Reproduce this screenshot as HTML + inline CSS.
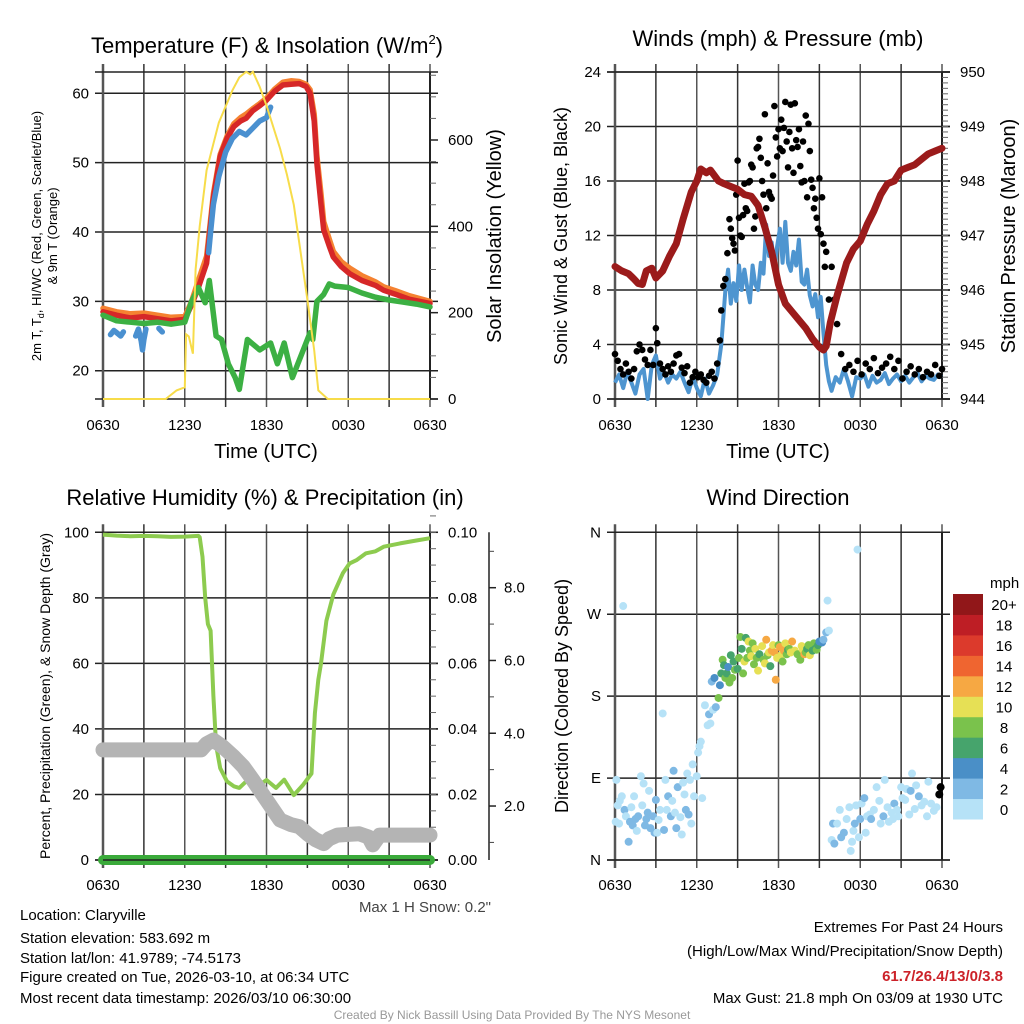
<!DOCTYPE html>
<html><head><meta charset="utf-8">
<style>
html,body{margin:0;padding:0;background:#fff;}
svg{display:block;font-family:"Liberation Sans",sans-serif;}
</style></head>
<body>
<svg id="fig" width="1024" height="1024" viewBox="0 0 1024 1024" xmlns="http://www.w3.org/2000/svg">
<rect width="1024" height="1024" fill="#fff"/>
<g id="layer"></g>
<!-- titles -->
<text x="267" y="53" font-size="22" text-anchor="middle">Temperature (F) &amp; Insolation (W/m<tspan font-size="13" dy="-9">2</tspan><tspan dy="9">)</tspan></text>
<text x="778" y="46" font-size="22" text-anchor="middle">Winds (mph) &amp; Pressure (mb)</text>
<text x="265" y="505" font-size="22" text-anchor="middle">Relative Humidity (%) &amp; Precipitation (in)</text>
<text x="778" y="505" font-size="22" text-anchor="middle">Wind Direction</text>
<!-- axis titles -->
<text x="266" y="458" font-size="20" text-anchor="middle">Time (UTC)</text>
<text x="778" y="458" font-size="20" text-anchor="middle">Time (UTC)</text>
<text transform="translate(41,236) rotate(-90)" font-size="13" text-anchor="middle">2m T, T<tspan font-size="9" dy="3">d</tspan><tspan dy="-3">, HI/WC (Red, Green, Scarlet/Blue)</tspan></text>
<text transform="translate(57,236) rotate(-90)" font-size="13" text-anchor="middle">&amp; 9m T (Orange)</text>
<text transform="translate(501,236) rotate(-90)" font-size="20" text-anchor="middle">Solar Insolation (Yellow)</text>
<text transform="translate(567,236) rotate(-90)" font-size="18" text-anchor="middle">Sonic Wind &amp; Gust (Blue, Black)</text>
<text transform="translate(1015,236) rotate(-90)" font-size="20" text-anchor="middle">Station Pressure (Maroon)</text>
<text transform="translate(50,696) rotate(-90)" font-size="14" text-anchor="middle">Percent, Precipitation (Green), &amp; Snow Depth (Gray)</text>
<text transform="translate(568,696) rotate(-90)" font-size="18" text-anchor="middle">Direction (Colored By Speed)</text>
<!-- footer -->
<text x="491" y="912" font-size="15" fill="#444" text-anchor="end">Max 1 H Snow: 0.2"</text>
<g font-size="15">
<text x="20" y="920">Location: Claryville</text>
<text x="20" y="943">Station elevation: 583.692 m</text>
<text x="20" y="963">Station lat/lon: 41.9789; -74.5173</text>
<text x="20" y="982">Figure created on Tue, 2026-03-10, at 06:34 UTC</text>
<text x="20" y="1003">Most recent data timestamp: 2026/03/10 06:30:00</text>
</g>
<g font-size="15" text-anchor="end">
<text x="1003" y="932">Extremes For Past 24 Hours</text>
<text x="1003" y="956">(High/Low/Max Wind/Precipitation/Snow Depth)</text>
<text x="1003" y="981" fill="#cc2229" font-weight="bold">61.7/26.4/13/0/3.8</text>
<text x="1003" y="1003">Max Gust: 21.8 mph On 03/09 at 1930 UTC</text>
</g>
<text x="512" y="1019" font-size="12" fill="#999" text-anchor="middle">Created By Nick Bassill Using Data Provided By The NYS Mesonet</text>
</svg>
<script>
// ---------- DATA ----------
const timeLabels = ["0630","1230","1830","0030","0630"];
// Temperature panel (hours since 0630 UTC)
const tempTimes = [0,1,2,3,4,5,6,6.5,7,7.6,8.1,8.6,9.1,9.6,10.1,10.5,11,11.5,12,12.6,13.2,13.8,14.4,14.9,15.2,15.5,15.7,16,16.2,16.6,16.9,17.5,18.1,19,20,20.6,21.5,22.5,24];
const tempRed = [28.5,28,27.6,27.8,27.5,27.2,27.4,29.5,32,35.5,45,50.9,53.5,55.2,56,56.4,57.5,58.2,59,60.3,61.2,61.3,61.4,61,60,56,49.9,44,40.3,38,36.4,35,34,33,32.3,31.6,31,30.3,29.7];
const tempOrange = [29,28.5,28.2,28.3,28,27.7,27.8,30,33,36.5,45.5,51.2,53.8,55.6,56.5,57,57.8,58.5,59.3,60.6,61.6,61.8,61.7,61.3,60.5,57,51,45.5,41.5,39,37.2,35.7,34.8,33.7,32.8,32.1,31.5,30.8,30];
const dewTimes = [0,1,2,3,4,5,6,6.5,7,7.5,7.8,8.3,8.7,9.2,9.7,10,10.6,11.5,12.3,12.8,13.3,13.9,14.5,15.2,15.4,15.7,16.2,16.6,17,18,19,20,21,22,23,24];
const dewGreen = [28,27.2,27,26.8,27,26.7,27,30,32,29.8,33,25,24.5,21,19,17.3,24.5,23,24,21,24,19,22,25.5,24.5,30,31,32.5,32.2,32,31.2,30.6,30.2,29.9,29.6,29.2];
const hiTimes = [0.55,0.8,1.0,1.3,1.5,null,2.4,2.6,2.8,2.9,3.0,3.15,null,4.1,4.35,null,7.75,7.9,8.1,8.5,9,9.5,10,10.5,11,11.5,12,12.3];
const hiBlue = [25.2,25.8,25.5,25,25.6,null,25,26,24.3,23,24.5,26,null,26.1,25.6,null,37,40,44,48,51.5,53.5,54.5,54,55,56,56.5,58];
const solarTimes = [0,4.6,5.4,6,6.1,6.3,6.6,6.8,7.1,7.6,8.5,9.5,10,10.5,10.8,11,11.5,12,13,13.5,14,14.5,15,15.5,15.8,16.5,24];
const solarVals = [0,0,20,27,150,145,105,300,400,530,640,715,745,758,752,758,723,680,580,520,450,340,230,113,20,0,0];
// Winds panel
const windTimes = [0,0.3,0.6,0.9,1.2,1.5,1.8,2.1,2.4,2.7,3.0,3.3,3.6,3.9,4.2,4.5,4.8,5.1,5.4,5.7,6.0,6.3,6.6,6.9,7.2,7.5,7.8,8.1,8.3,8.5,8.7,8.9,9.1,9.3,9.5,9.7,9.9,10.1,10.3,10.5,10.7,10.9,11.1,11.3,11.5,11.7,11.9,12.1,12.3,12.5,12.7,12.9,13.1,13.3,13.5,13.7,13.9,14.1,14.3,14.5,14.7,14.9,15.1,15.3,15.5,15.7,15.9,16.2,16.5,16.8,17.1,17.4,17.7,18,18.3,18.6,18.9,19.2,19.5,19.8,20.1,20.4,20.7,21,21.3,21.6,21.9,22.2,22.5,22.8,23.1,23.4,23.7,24];
const windBlue = [1.2,1.8,0.8,2,1.2,0.4,1.8,2.2,0,2.5,3.2,1.5,2,1.2,1.8,1.5,2,1.2,0.5,1.6,0.8,0.2,1.5,0.4,1,1.8,4,8,9.5,7,8.5,7.2,9.8,8,9.5,8.2,7.1,9.8,8.4,8,10,9.2,12.8,10.5,11.5,9.6,11.2,12.5,10,13,10,9.4,10.8,9.8,11.7,8.6,8.4,9.5,7.6,6.8,7.7,6,7.5,4.8,2.5,1.3,0.6,1.6,1.2,2.2,1.3,0.2,1.6,1.5,1.8,0.9,1.7,1.2,1.4,1.9,1.1,1.5,1.8,1.3,1.7,1.2,1.6,1.9,1.3,1.7,1.5,1.4,1.8,1.6];
const gustTimes = [0,0.2,0.4,0.6,0.8,1.0,1.2,1.4,1.6,1.8,2.0,2.2,2.4,2.6,2.8,3.0,3.1,3.3,3.5,3.7,3.9,4.1,4.3,4.5,4.7,4.9,5.1,5.3,5.5,5.7,5.9,6.1,6.3,6.5,6.7,6.9,7.1,7.3,7.5,7.7,7.8,7.95,8.1,8.25,8.4,8.5,8.6,8.7,8.8,8.9,9.0,9.1,9.2,9.3,9.4,9.5,9.6,9.7,9.8,9.9,10.0,10.1,10.2,10.3,10.4,10.5,10.6,10.7,10.8,10.9,11.0,11.1,11.2,11.3,11.4,11.5,11.6,11.7,11.8,11.9,12.0,12.1,12.2,12.3,12.4,12.5,12.6,12.7,12.8,12.9,13.0,13.1,13.2,13.3,13.4,13.5,13.6,13.7,13.8,13.9,14.0,14.1,14.2,14.3,14.4,14.5,14.6,14.7,14.8,14.9,15.0,15.1,15.2,15.3,15.4,15.5,15.7,15.9,16.1,16.3,16.6,16.9,17.2,17.5,17.8,18.1,18.4,18.7,19.0,19.3,19.6,19.9,20.2,20.5,20.8,21.1,21.4,21.7,22.0,22.3,22.6,22.9,23.2,23.5,23.8,24];
const gustBlack = [3.3,2.8,2.2,1.8,2.6,2.0,1.5,2.2,3.5,4.0,3.6,2.9,2.5,3.6,2.5,5.2,4.1,2.6,2.2,1.8,2.4,2.0,2.6,3.2,3.3,2.3,1.9,2.4,1.2,1.6,2.0,1.6,1.8,1.4,1.2,1.7,2.0,1.5,2.6,4.3,6.5,8.3,8.8,10.7,13.2,12.5,11.8,11.4,10.9,15.0,17.5,13.3,12.0,11.9,13.5,15.8,14.0,13.8,15.9,16.0,17.2,17.0,12.5,13.4,18.4,18.5,19.1,17.7,16.0,15.0,20.9,14.0,17.3,15.2,14.9,14.7,16.4,21.5,19.2,17.8,19.8,18.4,20.5,18.2,19.9,21.8,18.9,17.0,19.6,21.6,18.4,16.6,21.7,19.0,18.5,19.8,17.1,15.9,18.9,16.0,20.8,14.8,20.2,18.2,16.1,15.5,14.0,14.7,13.3,12.5,16.2,12.1,14.8,11.4,9.7,10.8,7.3,9.7,7.3,5.5,3.3,2.2,2.5,2.0,2.8,1.8,2.6,2.2,3.0,1.9,2.3,2.6,3.1,2.2,2.8,1.5,2.0,2.4,1.8,2.2,1.6,2.0,1.8,2.5,1.7,2.2,1.9,2.6,2.2];
const presTimes = [0,0.5,1,1.4,1.7,2.0,2.3,2.7,3.0,3.5,4,4.5,5,5.6,6,6.3,6.7,7,7.6,8,8.5,9,9.5,10,10.5,11,11.5,12,12.5,13,13.5,14,14.5,15,15.3,15.5,15.8,16.3,17,17.5,18,18.5,19,19.5,20,20.5,21,21.5,22,22.5,23,23.5,24];
const presMaroon = [946.43,946.35,946.3,946.2,946.12,946.1,946.35,946.4,946.22,946.35,946.62,946.85,947.3,947.8,948.0,948.22,948.15,948.2,948.0,947.95,947.9,947.85,947.75,947.72,947.55,947.15,946.7,946.1,945.75,945.6,945.45,945.3,945.1,944.95,944.9,944.97,945.4,945.9,946.5,946.75,946.9,947.2,947.45,947.75,947.95,948.0,948.2,948.25,948.3,948.4,948.5,948.55,948.6];
// Humidity panel
const rhTimes = [0,1,2,3,4,5,6,7,7.1,7.3,7.5,7.7,7.9,8.1,8.3,8.6,9.1,9.6,10,10.5,11,11.5,12,12.7,13.3,14,14.7,15.3,15.55,15.8,16,16.4,16.9,17.6,18.1,18.6,19.3,20,20.6,21.8,23,24];
const rhGreen = [99.3,99,98.8,98.9,98.8,98.6,98.7,98.9,98.5,92.5,80,72,70,50,35,28,24,22.5,22,24,26.5,23,24.4,22,24.5,19.8,23,26.4,44.8,55,60,73,81,87.5,90.5,91.5,93.6,94.2,95.6,96.6,97.5,98.2];
const snowTimes = [0,2,4,6,7.2,7.6,8.1,8.8,9.6,10.3,11,12,13,13.8,14.4,15,15.6,16.2,16.6,17.2,18,18.8,19.5,19.8,20.3,21,22,24];
const snowGray = [33.6,33.6,33.6,33.6,33.6,35.5,36.6,34.5,31.5,28.5,24.4,18.3,12.2,10.8,10.2,8,6.2,5,6.5,7.6,7.8,8,7,4.6,7.6,7.6,7.6,7.6];
const precipTimes = [0,24];
const precipVals = [0,0];
// Wind direction scatter: time, direction (deg), speed (mph)
const dirTimes = [0.05,0.1,0.2,0.3,0.35,0.5,0.6,0.7,0.8,1.0,1.1,1.2,1.3,1.4,1.5,1.6,1.7,1.9,2.0,2.1,2.2,2.3,2.4,2.5,2.6,2.8,2.9,3.0,3.1,3.2,3.3,3.5,3.6,3.7,3.8,3.9,4.1,4.2,4.3,4.4,4.5,4.6,4.8,4.9,5.0,5.1,5.2,5.3,5.4,5.5,5.6,5.7,5.8,6.0,6.1,6.2,6.3,6.4,6.6,6.8,6.9,7.0,7.1,7.2,7.3,7.4,7.6,7.7,7.8,7.9,8.0,8.1,8.2,8.3,8.4,8.5,8.6,8.7,8.8,9.0,9.1,9.2,9.3,9.4,9.5,9.6,9.7,9.8,9.9,10.0,10.1,10.2,10.3,10.4,10.5,10.6,10.8,10.9,11.0,11.1,11.2,11.3,11.4,11.5,11.6,11.7,11.8,11.9,12.0,12.1,12.2,12.3,12.4,12.5,12.6,12.7,12.8,12.9,13.0,13.2,13.4,13.6,13.7,13.8,13.9,14.0,14.1,14.2,14.3,14.4,14.5,14.6,14.7,14.8,14.9,15.0,15.2,15.3,15.5,15.6,15.7,15.9,16.0,16.1,16.3,16.5,16.6,16.8,17.0,17.2,17.3,17.4,17.5,17.6,17.7,17.8,17.9,18.0,18.1,18.3,18.4,18.5,18.7,18.8,19.0,19.2,19.4,19.5,19.7,19.8,20.0,20.1,20.3,20.4,20.5,20.7,20.8,21.0,21.1,21.3,21.4,21.6,21.7,21.8,22.0,22.1,22.3,22.5,22.7,22.9,23.0,23.2,23.4,23.6,23.8,23.9];
const dirDegs = [42,88,60,40,65,70,279,55,48,20,42,58,38,70,45,32,48,92,60,84,38,45,52,76,35,48,30,66,30,44,55,161,33,88,55,70,48,65,98,52,35,80,47,28,85,72,55,95,50,88,40,105,70,92,118,125,130,68,170,148,160,150,196,165,200,168,178,192,205,220,214,200,205,212,195,225,200,218,209,210,222,245,232,205,218,244,222,240,230,224,238,215,232,222,208,226,235,220,216,242,225,228,213,230,236,228,198,222,236,234,225,218,230,238,226,231,232,228,240,230,226,220,235,231,226,228,232,236,225,234,230,238,232,231,236,240,239,242,250,285,252,22,40,18,40,55,25,30,45,58,10,20,32,40,60,341,25,45,62,68,30,48,50,45,55,80,65,40,48,88,58,42,52,45,62,55,48,80,68,66,78,50,76,95,56,82,70,60,64,48,86,62,54,58,72,80,60,72,85,80];
const dirSpeeds = [1,1,1,1,1,1,1,3,1,3,3,1,3,1,3,1,3,1,1,1,3,3,3,1,3,3,3,3,1,1,1,1,3,1,1,3,3,1,3,1,3,3,1,1,1,1,3,1,3,1,1,1,1,1,1,1,1,1,1,1,3,1,3,1,5,3,9,5,7,9,7,9,7,5,9,7,9,7,9,7,9,9,7,9,11,7,9,11,9,11,9,9,11,9,11,7,11,9,11,13,9,11,7,13,11,13,12,11,9,13,11,9,13,11,9,7,9,11,13,11,9,9,11,11,13,9,7,9,11,9,7,9,7,9,7,5,5,3,3,1,1,1,3,3,1,1,3,3,1,1,1,1,1,3,1,1,1,3,1,3,1,1,1,3,1,1,1,1,3,1,1,1,1,1,3,1,1,1,1,1,1,1,3,1,1,1,3,1,1,1,1,1,1,1];
const speedBinLabels = ["0","2","4","6","8","10","12","14","16","18","20+"];
const speedBinColors = ["#b6e2f7","#7fb9e4","#4a8fc7","#46a46c","#7ac24c","#e6e055","#f6a843","#ef6530","#dc3a2c","#be1e25","#911719"];

// ---------- DRAWING ----------
const NS="http://www.w3.org/2000/svg";
const layer=document.getElementById('layer');
function mk(tag,attrs,parent){const e=document.createElementNS(NS,tag);for(const k in attrs)e.setAttribute(k,attrs[k]);(parent||layer).appendChild(e);return e;}
function xScale(x0,x1){return h=>x0+h*(x1-x0)/24;}
function yScale(y0,y1,v0,v1){return v=>y0-(v-v0)*(y0-y1)/(v1-v0);}
function pathFrom(ts,vs,xs,ys){let d="",pen=false;for(let i=0;i<ts.length;i++){if(ts[i]===null||vs[i]===null){pen=false;continue;}d+=(pen?"L":"M")+xs(ts[i]).toFixed(1)+","+ys(vs[i]).toFixed(1);pen=true;}return d;}

function frame(g,L,R,T,B,leftTicks,leftFmt,ly){
  leftTicks.forEach(v=>{const y=ly(v);const l=mk('line',{x1:L-8,x2:R+8,y1:y,y2:y,stroke:'#222','stroke-width':1.5},g);
    
    
    const t=mk('text',{x:L-14,y:y+5,'font-size':15,'text-anchor':'end'},g);t.textContent=leftFmt(v);
    
    });
  for(let i=0;i<=8;i++){const x=L+i*(R-L)/8;const l=mk('line',{x1:x,x2:x,y1:T-8,y2:B+8,stroke:i%2?'#333':'#555','stroke-width':(i==0?2.5:1.5)},g);
    
    }
  mk('line',{x1:L-8,x2:R+8,y1:T,y2:T,stroke:'#222','stroke-width':1.5},g);
  mk('line',{x1:L-8,x2:R+8,y1:B,y2:B,stroke:'#222','stroke-width':1.5},g);
  mk('line',{x1:R,x2:R,y1:T,y2:B,stroke:'#222','stroke-width':2},g);
}
function xLabels(g,xs,y){timeLabels.forEach((s,i)=>{const t=mk('text',{x:xs(i*6),y:y,'font-size':15,'text-anchor':'middle'},g);t.textContent=s;
  
  });}
function rightAxis(g,R,ticks,ys,fmt,minor){ticks.forEach(v=>{const y=ys(v);mk('line',{x1:R,x2:R+8,y1:y,y2:y,stroke:'#222','stroke-width':1.5},g);
  const t=mk('text',{x:R+18,y:y+5,'font-size':15},g);t.textContent=fmt(v);
  
  });
  (minor||[]).forEach(v=>{const y=ys(v);mk('line',{x1:R,x2:R+6,y1:y,y2:y,stroke:'#666','stroke-width':1},g);});}

// ---- Panel 1: temperature ----
{const g=mk('g',{});
 const xs=xScale(103,430), ys=yScale(370.7,93.3,20,60), yi=yScale(399,140,0,600);
 frame(g,103,430,72,399,[20,30,40,50,60],v=>v,ys);
 rightAxis(g,430,[0,200,400,600],yi,v=>v,[50,100,150,250,300,350,450,500,550,650,700,750]);
 xLabels(g,xs,430);
 const s1=mk('path',{d:pathFrom(tempTimes,tempOrange,xs,ys),fill:'none',stroke:'#f58231','stroke-width':5.5,'stroke-linejoin':'round','stroke-linecap':'round'},g);
 
 const s2=mk('path',{d:pathFrom(tempTimes,tempRed,xs,ys),fill:'none',stroke:'#d62728','stroke-width':5.5,'stroke-linejoin':'round','stroke-linecap':'round'},g);
 
 const s3=mk('path',{d:pathFrom(hiTimes,hiBlue,xs,ys),fill:'none',stroke:'#4a90d0','stroke-width':5.5,'stroke-linejoin':'round','stroke-linecap':'round'},g);
 
 const s4=mk('path',{d:pathFrom(dewTimes,dewGreen,xs,ys),fill:'none',stroke:'#3cb043','stroke-width':5.5,'stroke-linejoin':'round','stroke-linecap':'round'},g);
 
 const s5=mk('path',{d:pathFrom(solarTimes,solarVals,xs,yi),fill:'none',stroke:'#f7dc4a','stroke-width':2},g);
 
}
// ---- Panel 2: winds ----
{const g=mk('g',{});
 const xs=xScale(615,942), ys=yScale(399,72,0,24), yp=yScale(399,72,944,950);
 frame(g,615,942,72,399,[0,4,8,12,16,20,24],v=>v,ys);
 const minor=[];for(let v=944.1;v<950;v+=0.1)minor.push(v);
 rightAxis(g,942,[944,945,946,947,948,949,950],yp,v=>v,minor);
 xLabels(g,xs,430);
 const b=mk('path',{d:pathFrom(windTimes,windBlue,xs,ys),fill:'none',stroke:'#4e95d0','stroke-width':4,'stroke-linejoin':'round'},g);
 
 gustTimes.forEach((t,i)=>{const c=mk('circle',{cx:xs(t),cy:ys(gustBlack[i]),r:3.3,fill:'#000'},g);
   
   });
 const p=mk('path',{d:pathFrom(presTimes,presMaroon,xs,yp),fill:'none',stroke:'#9b1b1b','stroke-width':7,'stroke-linejoin':'round','stroke-linecap':'round'},g);
 
}
// ---- Panel 3: humidity ----
{const g=mk('g',{});
 const xs=xScale(103,430), ys=yScale(860,532.3,0,100), yq=yScale(860,532.3,0,0.1), ysn=yScale(878.8,587.7,0,8);
 frame(g,103,430,532.3,860,[0,20,40,60,80,100],v=>v,ys);
 const mn=[];for(let v=0.01;v<0.1;v+=0.01)mn.push(v);
 rightAxis(g,430,[0,0.02,0.04,0.06,0.08,0.1],yq,v=>v.toFixed(2),mn.map(v=>v+0.005).concat(mn));
 mk('line',{x1:489,x2:489,y1:532.3,y2:860,stroke:'#222','stroke-width':1.5},g);
 [2,4,6,8].forEach(v=>{const y=ysn(v);mk('line',{x1:489,x2:496,y1:y,y2:y,stroke:'#222','stroke-width':1.5},g);
   const t=mk('text',{x:504,y:y+5,'font-size':15},g);t.textContent=v.toFixed(1);
   });
 for(let v=1;v<9.5;v+=2){const y=ysn(v);mk('line',{x1:489,x2:494,y1:y,y2:y,stroke:'#444','stroke-width':1},g);}
 xLabels(g,xs,890);
 const r=mk('path',{d:pathFrom(rhTimes,rhGreen,xs,ys),fill:'none',stroke:'#8dcb4f','stroke-width':4,'stroke-linejoin':'round'},g);
 
 const s=mk('path',{d:pathFrom(snowTimes,snowGray,xs,ys),fill:'none',stroke:'#b4b4b4','stroke-width':15,'stroke-linejoin':'round','stroke-linecap':'round'},g);
 
 const pr=mk('path',{d:pathFrom(precipTimes,precipVals,xs,yq),fill:'none',stroke:'#3aaa3a','stroke-width':10,'stroke-linecap':'round'},g);
 
 mk('line',{x1:103,x2:430,y1:860,y2:860,stroke:'#222','stroke-width':1.5},g);
}
// ---- Panel 4: wind direction ----
{const g=mk('g',{});
 const xs=xScale(615,942), yd=yScale(860,532.3,0,360);
 const dirLabels=["N","E","S","W","N"];
 frame(g,615,942,532.3,860,[0,90,180,270,360],v=>dirLabels[v/90],yd);
 xLabels(g,xs,890);
 dirTimes.forEach((t,i)=>{const bin=Math.min(10,Math.floor(dirSpeeds[i]/2));
   const c=mk('circle',{cx:xs(t),cy:yd(dirDegs[i]),r:4,fill:speedBinColors[bin]},g);
   
   });
 const cb=mk('g',{},g);
 const top=594,bot=819,h=(bot-top)/11;
 speedBinColors.forEach((col,i)=>{const y=bot-(i+1)*h;mk('rect',{x:953,y:y,width:30,height:h+0.5,fill:col},cb);
   const t=mk('text',{x:1004,y:y+h/2+6,'font-size':15,'text-anchor':'middle'},cb);t.textContent=speedBinLabels[i];
   });
 const mt=mk('text',{x:990,y:588,'font-size':15},cb);mt.textContent="mph";
 
}
</script>
</body></html>
